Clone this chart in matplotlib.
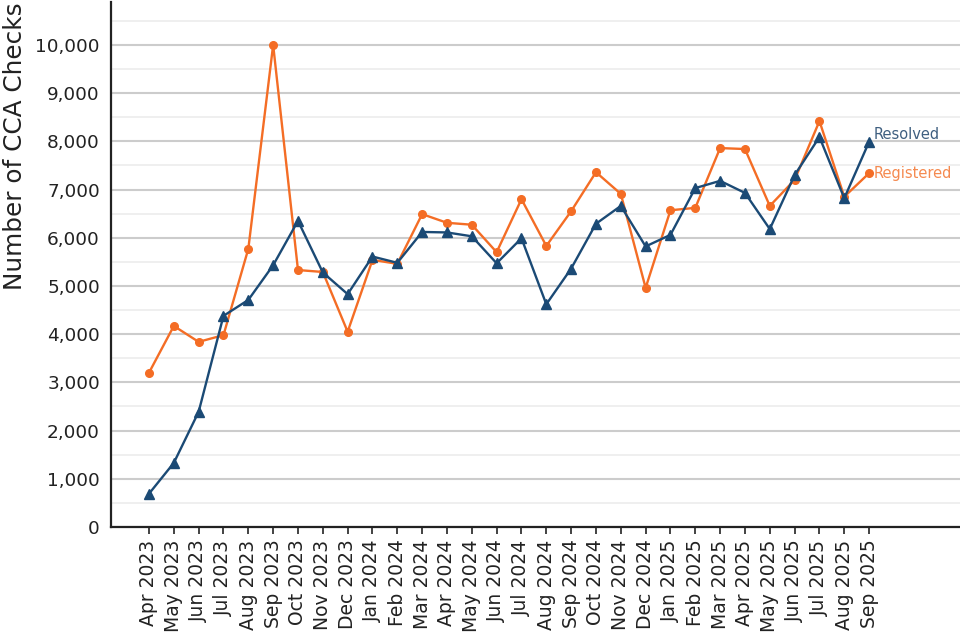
import numpy as np
import matplotlib
matplotlib.use("Agg")
import matplotlib.pyplot as plt
from matplotlib.ticker import MultipleLocator, FuncFormatter

# Monthly CCA checks, Apr 2023 - Sep 2025
months = ["Apr 2023", "May 2023", "Jun 2023", "Jul 2023", "Aug 2023", "Sep 2023",
          "Oct 2023", "Nov 2023", "Dec 2023", "Jan 2024", "Feb 2024", "Mar 2024",
          "Apr 2024", "May 2024", "Jun 2024", "Jul 2024", "Aug 2024", "Sep 2024",
          "Oct 2024", "Nov 2024", "Dec 2024", "Jan 2025", "Feb 2025", "Mar 2025",
          "Apr 2025", "May 2025", "Jun 2025", "Jul 2025", "Aug 2025", "Sep 2025"]

registered = [3200, 4170, 3840, 3980, 5770, 10000, 5330, 5290, 4050, 5540,
              5460, 6490, 6310, 6270, 5700, 6800, 5830, 6550, 7360, 6910,
              4960, 6570, 6620, 7860, 7840, 6660, 7200, 8420, 6850, 7340]

resolved = [690, 1330, 2390, 4380, 4710, 5430, 6350, 5280, 4830, 5610,
            5480, 6120, 6110, 6030, 5470, 5990, 4620, 5360, 6290, 6660,
            5820, 6060, 7030, 7180, 6930, 6180, 7300, 8090, 6820, 7990]

col_reg = "#f46d25"
col_res = "#1b4a75"

fig = plt.figure(figsize=(9.6, 6.4), dpi=100)
ax = fig.add_axes([111/960, 113/640, 849/960, 525/640])

x = np.arange(len(months))
ax.plot(x, registered, color=col_reg, lw=1.7, marker="o", ms=5.5, zorder=3)
ax.plot(x, resolved, color=col_res, lw=1.7, marker="^", ms=7, zorder=4)

# end-of-line labels
ax.annotate("Resolved", (x[-1], resolved[-1]), xytext=(3, 5), textcoords="offset points",
            color="#3f5f80", fontsize=10.5, va="center", ha="left")
ax.annotate("Registered", (x[-1], registered[-1]), xytext=(3, 0), textcoords="offset points",
            color="#f58a50", fontsize=10.5, va="center", ha="left")

ax.set_xlim(-1.53, 32.66)
ax.set_ylim(0, 10890)
ax.set_xticks(x)
ax.set_xticklabels(months, rotation=90, fontsize=13.5, color="#222222")
ax.yaxis.set_major_locator(MultipleLocator(1000))
ax.yaxis.set_minor_locator(MultipleLocator(500))
ax.yaxis.set_major_formatter(FuncFormatter(lambda v, p: f"{int(v):,}"))
ax.tick_params(axis="y", which="both", length=0, labelsize=13.3, labelcolor="#222222", pad=8)
ax.tick_params(axis="x", length=5, width=1.2, color="#222222", pad=4)

ax.grid(axis="y", which="major", color="#cccccc", lw=1.5, zorder=0)
ax.grid(axis="y", which="minor", color="#ececec", lw=1.2, zorder=0)
ax.set_axisbelow(True)

for s in ["top", "right"]:
    ax.spines[s].set_visible(False)
for s in ["left", "bottom"]:
    ax.spines[s].set_color("#222222")
    ax.spines[s].set_linewidth(1.6)

fig.text(3/960, (640-290)/640, "Number of CCA Checks", rotation=90,
         ha="left", va="bottom", fontsize=17.8, color="#222222")

fig.savefig("out.png", dpi=100)
